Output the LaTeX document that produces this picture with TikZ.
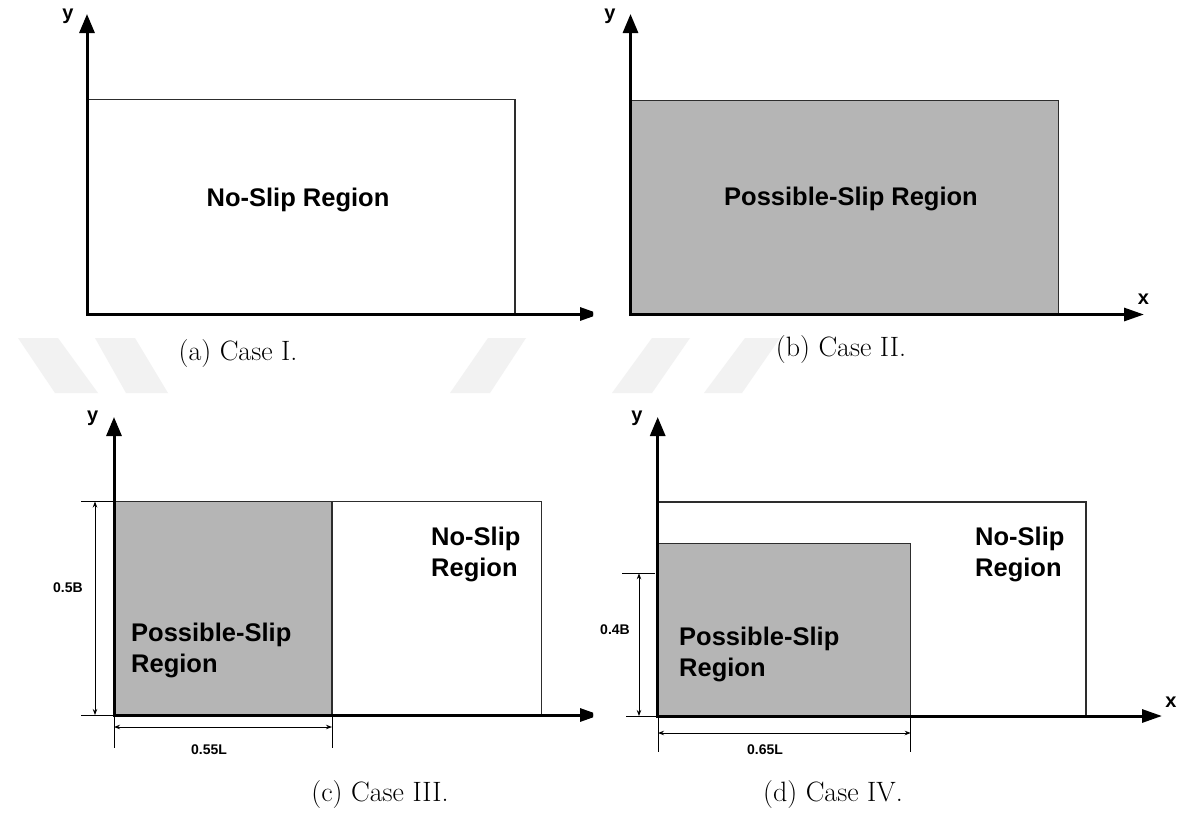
\documentclass[tikz,border=0pt]{standalone}
\usepackage{fontspec}
\newfontfamily\arialb{Liberation Sans}
\usetikzlibrary{arrows.meta}
\definecolor{slipgray}{RGB}{181,181,181}
\definecolor{edgegray}{RGB}{45,45,45}
\definecolor{wmgray}{RGB}{242,242,242}
\tikzset{
  axis/.style={line width=3pt, draw=black},
  yarrow/.style={-{Triangle[length=19pt,width=15pt]}},
  xarrow/.style={-{Triangle[length=20pt,width=13pt]}},
  outline/.style={line width=1.8pt, draw=edgegray},
  thinoutline/.style={line width=1.2pt, draw=edgegray},
  slip/.style={fill=slipgray},
  dimline/.style={line width=0.9pt, draw=black},
  dimarrow/.style={line width=0.9pt, draw=black, {Stealth[length=6pt,width=4.5pt]}-{Stealth[length=6pt,width=4.5pt]}},
  region/.style={font=\arialb\bfseries\fontsize{25.5}{30.5}\selectfont, inner sep=0pt, align=left},
  dimlabel/.style={font=\arialb\bfseries\fontsize{14}{16}\selectfont, inner sep=0pt},
  axlabel/.style={font=\arialb\bfseries\fontsize{20}{22}\selectfont, inner sep=0pt},
  capt/.style={font=\fontsize{28}{32}\selectfont, inner sep=0pt, anchor=base},
  watermark/.style={fill=wmgray, draw=none}
}
\begin{document}
\begin{tikzpicture}[x=1pt,y=-1pt]
\useasboundingbox (0,0) rectangle (1184,817);
\fill[white] (0,0) rectangle (1184,817);
% watermark bands
\fill[watermark] (18,338) -- (58,338) -- (98,393) -- (55,393) -- cycle;
\fill[watermark] (95,338) -- (135,338) -- (168,393) -- (126,393) -- cycle;
\fill[watermark] (488,338) -- (526,338) -- (490,393) -- (450,393) -- cycle;
\fill[watermark] (652,338) -- (690,338) -- (652,393) -- (612,393) -- cycle;
\fill[watermark] (745,338) -- (780,338) -- (742,393) -- (704,393) -- cycle;

% ---------------- (a) Case I
\draw[outline] (87,99.5) -- (515,99.5) -- (515,314);
\begin{scope}
  \clip (0,0) rectangle (593,400);
  \coordinate (aO) at (87,314);
  \coordinate (aX) at (600,314);
  \draw[axis,xarrow] (aO) -- (aX);
\end{scope}
\coordinate (aY) at (87,14);
\draw[axis,yarrow] (87,315.5) -- (aY);
\node[axlabel] (ay) at (68,16) {y};
\node[region, anchor=base] (aR) at (298,206) {No-Slip Region};
\node[capt] (acap) at (238,360) {(a) Case I.};

% ---------------- (b) Case II
\draw[outline, slip] (630.5,100.5) rectangle (1058.5,314.5);
\coordinate (bO) at (630.5,314.5);
\coordinate (bX) at (1144,314.5);
\coordinate (bY) at (630.5,14);
\draw[axis,xarrow] (629,314.5) -- (bX);
\draw[axis,yarrow] (630.5,316) -- (bY);
\node[axlabel] (by) at (610,16) {y};
\node[axlabel] (bx) at (1143.5,299) {x};
\node[region, anchor=base] (bR) at (851,205.5) {Possible-Slip Region};
\node[capt] (bcap) at (841,356) {(b) Case II.};

% ---------------- (c) Case III
\draw[outline] (114,501.5) -- (541.5,501.5) -- (541.5,715);
\draw[thinoutline, slip] (114,501.5) rectangle (332,715);
\draw[outline] (114,501.5) -- (332,501.5);
\begin{scope}
  \clip (0,400) rectangle (593,817);
  \draw[axis,xarrow] (114,715) -- (600,715);
\end{scope}
\coordinate (cY) at (114,417);
\draw[axis,yarrow] (114,716.5) -- (cY);
\node[axlabel] (cy) at (92.7,418) {y};
% dimension 0.5B
\draw[dimline] (81,501.5) -- (114,501.5);
\draw[dimline] (81,715) -- (114,715);
\coordinate (cB1) at (95,501.5);
\coordinate (cB2) at (95,715);
\draw[dimarrow] (cB1) -- (cB2);
\node[dimlabel] (cBl) at (68,588) {0.5B};
% dimension 0.55L
\draw[dimline] (114,715) -- (114,748);
\draw[dimline] (332,715) -- (332,748);
\coordinate (cL1) at (114,727);
\coordinate (cL2) at (332,727);
\draw[dimarrow] (cL1) -- (cL2);
\node[dimlabel] (cLl) at (209,750) {0.55L};
\node[region, anchor=north west] (cN) at (431,527) {No-Slip\\Region};
\node[region, anchor=north west] (cP) at (131,623) {Possible-Slip\\Region};
\node[capt] (ccap) at (380,801) {(c) Case III.};

% ---------------- (d) Case IV
\draw[outline] (658,502.3) -- (1086,502.3) -- (1086,716);
\draw[thinoutline, slip] (658,543.3) rectangle (910.7,716);
\coordinate (dX) at (1162,716);
\draw[axis,xarrow] (658,716) -- (dX);
\coordinate (dY) at (657.7,417);
\draw[axis,yarrow] (657.7,717.5) -- (dY);
\node[axlabel] (dy) at (637,418) {y};
\node[axlabel] (dx) at (1171,702) {x};
% dimension 0.4B
\draw[dimline] (622,573.3) -- (655,573.3);
\draw[dimline] (626,716) -- (657,716);
\coordinate (dB1) at (639,573.3);
\coordinate (dB2) at (639,716);
\draw[dimarrow] (dB1) -- (dB2);
\node[dimlabel] (dBl) at (615,630) {0.4B};
% dimension 0.65L
\draw[dimline] (658,716) -- (658,752);
\draw[dimline] (910.7,716) -- (910.7,752);
\coordinate (dL1) at (658,733);
\coordinate (dL2) at (910.7,733);
\draw[dimarrow] (dL1) -- (dL2);
\node[dimlabel] (dLl) at (765,750) {0.65L};
\node[region, anchor=north west] (dN) at (975,527) {No-Slip\\Region};
\node[region, anchor=north west] (dP) at (679,627) {Possible-Slip\\Region};
\node[capt] (dcap) at (833,801) {(d) Case IV.};
\end{tikzpicture}
\end{document}
